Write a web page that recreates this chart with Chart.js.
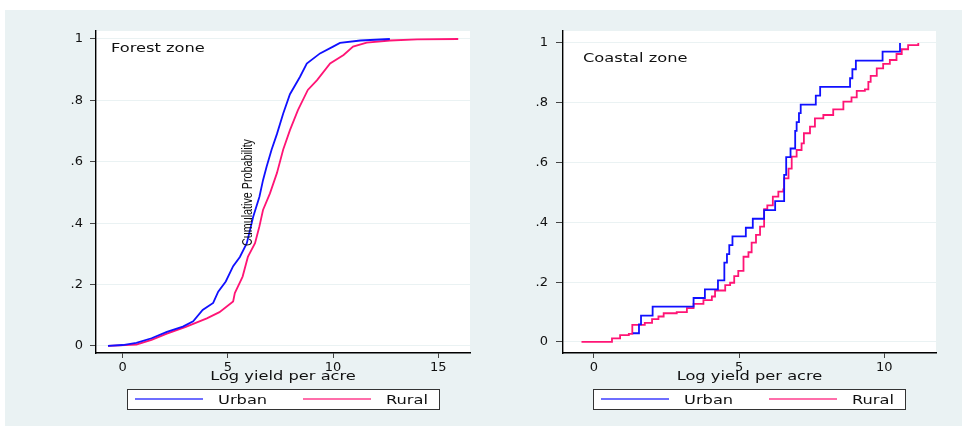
<!DOCTYPE html>
<html>
<head>
<meta charset="utf-8">
<script src="https://cdn.jsdelivr.net/npm/chart.js@4.4.1/dist/chart.umd.min.js"></script>
<style>
  body { margin: 0; background: #fff; width: 962px; height: 426px; overflow: hidden; position: relative; }
  #bg { position: absolute; left: 5px; top: 10px; width: 957px; height: 416px; background: #eaf2f3; }
  canvas { position: absolute; top: 10px; }
  #forest { left: 40px; }
  #coastal { left: 500px; }
</style>
</head>
<body>
<div id="bg"></div>
<canvas id="forest" width="440" height="416"></canvas>
<canvas id="coastal" width="462" height="416"></canvas>
<script>
// series names and titles
const seriesNames = ['Urban', 'Rural'];
const xTitle = 'Log yield per acre';
const yTitle = 'Cumulative Probability';

// tick values / labels
const yTicks = [0, 0.2, 0.4, 0.6, 0.8, 1];
const yTickLabels = ['0', '.2', '.4', '.6', '.8', '1'];
const forestXTicks = [0, 5, 10, 15];
const forestXTickLabels = ['0', '5', '10', '15'];
const coastalXTicks = [0, 5, 10];
const coastalXTickLabels = ['0', '5', '10'];

// Forest zone, cumulative distribution
const forestUrbanX = [-0.7, 0, 0.65, 1.37, 2.1, 2.86, 3.35, 3.8, 4.3, 4.54, 4.9, 5.25, 5.57, 5.9, 6.2, 6.5, 6.67, 6.84, 7.08, 7.33, 7.63, 7.95, 8.43, 8.75, 9.38, 10.0, 10.33, 11.3, 12.7];
const forestUrbanY = [0, 0.003, 0.01, 0.025, 0.046, 0.063, 0.08, 0.117, 0.14, 0.177, 0.21, 0.26, 0.29, 0.335, 0.42, 0.486, 0.54, 0.584, 0.64, 0.69, 0.757, 0.82, 0.877, 0.92, 0.953, 0.975, 0.987, 0.995, 1.0];
const forestRuralX = [-0.7, 0.65, 1.37, 2.1, 3.0, 4.0, 4.6, 5.25, 5.33, 5.7, 5.95, 6.29, 6.5, 6.67, 7.0, 7.33, 7.63, 7.95, 8.33, 8.8, 9.24, 9.86, 10.5, 10.95, 11.6, 12.7, 14, 15.95];
const forestRuralY = [0, 0.004, 0.02, 0.04, 0.062, 0.09, 0.11, 0.145, 0.172, 0.226, 0.29, 0.335, 0.39, 0.443, 0.497, 0.563, 0.64, 0.703, 0.768, 0.834, 0.866, 0.92, 0.948, 0.975, 0.988, 0.995, 0.999, 1.0];

// Coastal zone, cumulative distribution (step points)
const coastalUrbanX = [1.34, 1.55, 1.62, 2.02, 3.43, 3.82, 4.27, 4.49, 4.58, 4.66, 4.77, 5.23, 5.47, 5.86, 6.24, 6.55, 6.62, 6.77, 6.93, 6.98, 7.06, 7.12, 7.64, 7.79, 8.82, 8.9, 9.02, 9.94, 10.54];
const coastalUrbanY = [0.029, 0.059, 0.088, 0.118, 0.147, 0.176, 0.206, 0.265, 0.294, 0.324, 0.353, 0.382, 0.412, 0.441, 0.471, 0.559, 0.618, 0.647, 0.706, 0.735, 0.765, 0.794, 0.824, 0.853, 0.882, 0.912, 0.941, 0.971, 1.0];
const coastalRuralX = [-0.43, 0.62, 0.9, 1.2, 1.32, 1.75, 2.0, 2.22, 2.4, 2.85, 3.2, 3.43, 3.77, 4.06, 4.17, 4.52, 4.69, 4.83, 4.97, 5.15, 5.32, 5.43, 5.58, 5.72, 5.86, 5.97, 6.16, 6.35, 6.52, 6.55, 6.7, 6.81, 6.98, 7.15, 7.23, 7.44, 7.61, 7.9, 8.24, 8.59, 8.87, 9.05, 9.33, 9.45, 9.53, 9.74, 9.96, 10.19, 10.42, 10.6, 10.82, 11.17];
const coastalRuralY = [0, 0.012, 0.023, 0.027, 0.057, 0.064, 0.076, 0.085, 0.096, 0.1, 0.113, 0.127, 0.14, 0.152, 0.172, 0.19, 0.198, 0.22, 0.238, 0.285, 0.3, 0.332, 0.358, 0.386, 0.444, 0.457, 0.486, 0.503, 0.51, 0.547, 0.58, 0.62, 0.642, 0.664, 0.698, 0.72, 0.748, 0.759, 0.778, 0.804, 0.818, 0.84, 0.845, 0.87, 0.89, 0.915, 0.93, 0.943, 0.963, 0.979, 0.993, 1.0];

const blue = '#1010ff';
const pink = '#ff1475';
const blueKey = '#6e6eff';
const pinkKey = '#ff6eaa';

const toPoints = (xs, ys) => xs.map((x, i) => ({ x: x, y: ys[i] }));

function wideText(ctx, text, x, y, align) {
  ctx.save();
  ctx.translate(x, y);
  ctx.scale(1.3, 1);
  ctx.font = '12.5px "DejaVu Sans"';
  ctx.textAlign = align;
  ctx.textBaseline = 'alphabetic';
  ctx.fillText(text, 0, 0);
  ctx.restore();
}

function makePanel(id, o) {
  const deco = {
    id: 'deco',
    beforeDraw(chart) {
      const a = chart.chartArea, ctx = chart.ctx;
      ctx.save();
      ctx.fillStyle = '#fff';
      ctx.fillRect(a.left, a.top, a.right - a.left, a.bottom - a.top);
      ctx.restore();
    },
    afterDraw(chart) {
      const a = chart.chartArea, ctx = chart.ctx;
      ctx.save();
      ctx.fillStyle = '#111';
      wideText(ctx, o.zone, o.zoneX, o.zoneY, 'left');
      wideText(ctx, xTitle, (a.left + a.right) / 2, 370, 'center');

      if (o.yTitleAt) {
        ctx.save();
        ctx.translate(o.yTitleAt[0], o.yTitleAt[1]);
        ctx.rotate(-Math.PI / 2);
        ctx.font = '15px "Liberation Sans"';
        const w = ctx.measureText(yTitle).width;
        ctx.scale(107 / w, 1);
        ctx.textAlign = 'center';
        ctx.fillText(yTitle, 0, 0);
        ctx.restore();
      }

      // legend box
      const L = o.legendX, T = 379;
      ctx.fillStyle = '#fff';
      ctx.fillRect(L, T, 312, 20);
      ctx.strokeStyle = '#333';
      ctx.lineWidth = 1;
      ctx.strokeRect(L + 0.5, T + 0.5, 312, 20);
      ctx.lineWidth = 2;
      ctx.strokeStyle = blueKey;
      ctx.beginPath(); ctx.moveTo(L + 8, T + 10); ctx.lineTo(L + 76, T + 10); ctx.stroke();
      ctx.strokeStyle = pinkKey;
      ctx.beginPath(); ctx.moveTo(L + 176, T + 10); ctx.lineTo(L + 244, T + 10); ctx.stroke();
      ctx.fillStyle = '#111';
      wideText(ctx, seriesNames[0], L + 91, T + 14.5, 'left');
      wideText(ctx, seriesNames[1], L + 259, T + 14.5, 'left');
      ctx.restore();
    }
  };

  const tickFont = { family: 'DejaVu Sans', size: 13 };

  new Chart(document.getElementById(id), {
    type: 'line',
    data: {
      datasets: [
        { label: seriesNames[0], data: toPoints(o.ux, o.uy), borderColor: blue, borderWidth: 1.8,
          pointRadius: 0, tension: 0, stepped: o.stepped, fill: false },
        { label: seriesNames[1], data: toPoints(o.rx, o.ry), borderColor: pink, borderWidth: 1.8,
          pointRadius: 0, tension: 0, stepped: o.stepped, fill: false }
      ]
    },
    options: {
      responsive: false,
      animation: false,
      layout: { padding: { left: 0, top: 21, right: o.padRight, bottom: 0 } },
      plugins: { legend: { display: false }, tooltip: { enabled: false } },
      scales: {
        x: {
          type: 'linear',
          min: o.xmin,
          max: o.xmax,
          afterBuildTicks: s => { s.ticks = o.xticks.map(v => ({ value: v })); },
          afterFit: s => { s.height = 73; },
          ticks: { callback: (v, i) => o.xlabels[i], font: tickFont, color: '#111', padding: 2,
                   maxRotation: 0, autoSkip: false },
          grid: { drawOnChartArea: false, tickLength: 5, tickColor: '#444', color: '#444' },
          border: { color: '#000', width: 1.4 }
        },
        y: {
          type: 'linear',
          min: o.ymin,
          max: o.ymax,
          afterBuildTicks: s => { s.ticks = yTicks.map(v => ({ value: v })); },
          afterFit: s => { s.width = o.yAxisW; },
          ticks: { callback: (v, i) => yTickLabels[i], font: tickFont, color: '#111', padding: o.yPad,
                   autoSkip: false },
          grid: { color: '#eaf2f3', tickColor: '#444', tickLength: o.yTick },
          border: { color: '#000', width: 1.4 }
        }
      }
    },
    plugins: [deco]
  });
}

makePanel('forest', {
  ux: forestUrbanX, uy: forestUrbanY, rx: forestRuralX, ry: forestRuralY, stepped: false,
  xmin: -1.27, xmax: 16.51, ymin: -0.023, ymax: 1.026,
  xticks: forestXTicks, xlabels: forestXTickLabels,
  padRight: 10, yAxisW: 56, yPad: 7, yTick: 6,
  zone: 'Forest zone', zoneX: 71, zoneY: 41.7,
  legendX: 87, yTitleAt: [212, 182.5]
});

makePanel('coastal', {
  ux: coastalUrbanX, uy: coastalUrbanY, rx: coastalRuralX, ry: coastalRuralY, stepped: true,
  xmin: -1.067, xmax: 11.78, ymin: -0.037, ymax: 1.04,
  xticks: coastalXTicks, xlabels: coastalXTickLabels,
  padRight: 26, yAxisW: 63, yPad: 8, yTick: 7,
  zone: 'Coastal zone', zoneX: 83, zoneY: 51.7,
  legendX: 93, yTitleAt: null
});
</script>
</body>
</html>
